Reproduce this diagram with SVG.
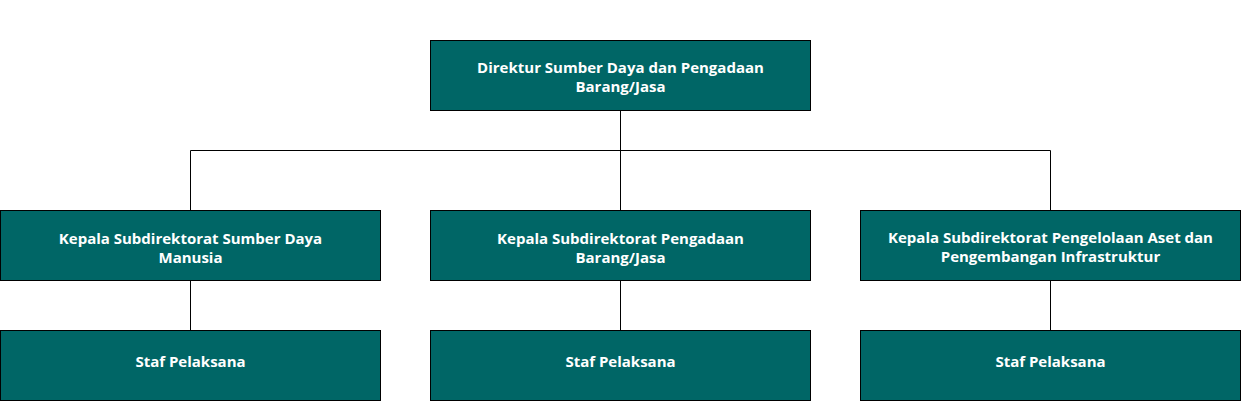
<svg xmlns="http://www.w3.org/2000/svg" width="1242" height="401" viewBox="0 0 1242 401">
<style>
.box{fill:#006666;stroke:#000000;stroke-width:1}
.t{fill:#ffffff;font-family:"Open Sans","Noto Sans","DejaVu Sans",sans-serif;font-weight:700;font-size:15px;text-anchor:middle}
.c{fill:none;stroke:#000000;stroke-width:1}
</style>
<rect width="1242" height="401" fill="#ffffff"/>
<g id="connectors">
<path class="c" d="M620.5 110 V150.5 M190.5 150.5 H1050.5 M190.5 150.5 V210 M620.5 150.5 V210 M1050.5 150.5 V210"/>
<path class="c" d="M190.5 280 V330 M620.5 280 V330 M1050.5 280 V330"/>
</g>
<g id="n-direktur">
<rect class="box" x="430.5" y="40.5" width="380" height="70"/>
<text class="t" x="620.5" y="73">Direktur Sumber Daya dan Pengadaan</text>
<text class="t" x="620.5" y="92">Barang/Jasa</text>
</g>
<g id="n-sdm">
<rect class="box" x="0.5" y="210.5" width="380" height="70"/>
<text class="t" x="190.5" y="244">Kepala Subdirektorat Sumber Daya</text>
<text class="t" x="190.5" y="263">Manusia</text>
</g>
<g id="n-pbj">
<rect class="box" x="430.5" y="210.5" width="380" height="70"/>
<text class="t" x="620.5" y="244">Kepala Subdirektorat Pengadaan</text>
<text class="t" x="620.5" y="263">Barang/Jasa</text>
</g>
<g id="n-aset">
<rect class="box" x="860.5" y="210.5" width="380" height="70"/>
<text class="t" x="1050.5" y="243">Kepala Subdirektorat Pengelolaan Aset dan</text>
<text class="t" x="1050.5" y="262">Pengembangan Infrastruktur</text>
</g>
<g id="n-staf1">
<rect class="box" x="0.5" y="330.5" width="380" height="70"/>
<text class="t" x="190.5" y="367">Staf Pelaksana</text>
</g>
<g id="n-staf2">
<rect class="box" x="430.5" y="330.5" width="380" height="70"/>
<text class="t" x="620.5" y="367">Staf Pelaksana</text>
</g>
<g id="n-staf3">
<rect class="box" x="860.5" y="330.5" width="380" height="70"/>
<text class="t" x="1050.5" y="367">Staf Pelaksana</text>
</g>
</svg>
